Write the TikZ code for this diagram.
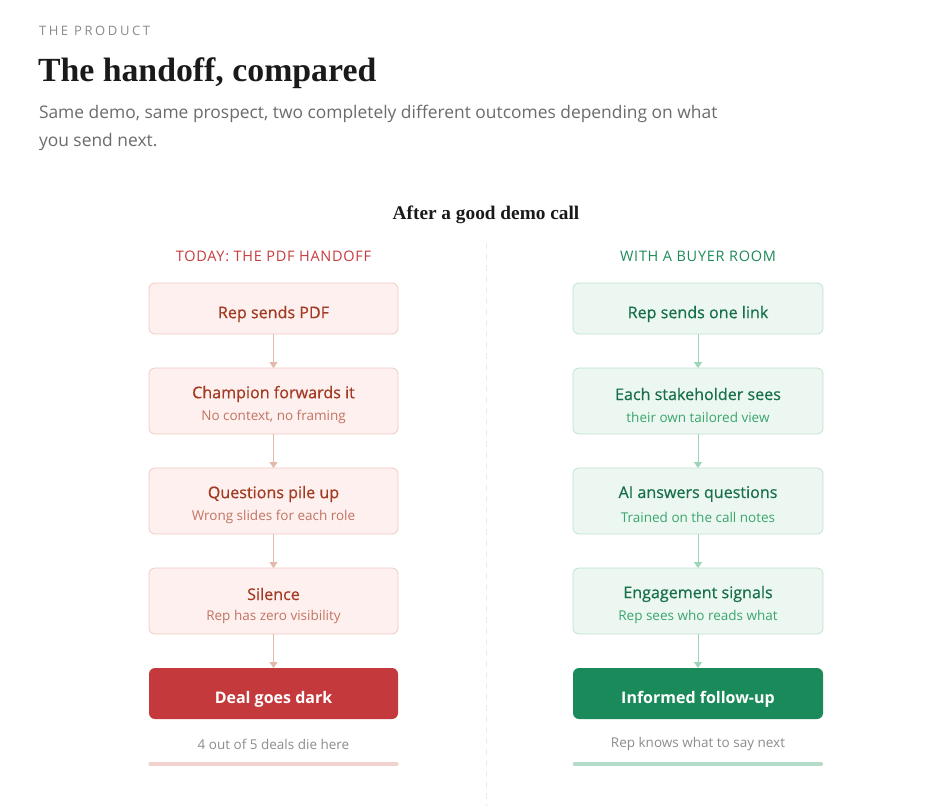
\documentclass[tikz,border=0pt]{standalone}
\usepackage{fontspec}
\setmainfont{Open Sans}
\newfontfamily\serifbold{Liberation Serif}[BoldFont={Liberation Serif Bold}]
\newfontfamily\medfont{Open Sans}[FakeBold=0.6]
\usetikzlibrary{arrows.meta}
\definecolor{lfill}{HTML}{FDF0EE}
\definecolor{lborder}{HTML}{F2CABF}
\definecolor{ltitle}{HTML}{A33A22}
\definecolor{lsub}{HTML}{C27462}
\definecolor{larrow}{HTML}{E2B9AB}
\definecolor{lsolid}{HTML}{C4393C}
\definecolor{lbar}{HTML}{F1D2CE}
\definecolor{lhead}{HTML}{C63B3E}
\definecolor{rfill}{HTML}{EDF7F1}
\definecolor{rborder}{HTML}{BFE3CF}
\definecolor{rtitle}{HTML}{17704A}
\definecolor{rsub}{HTML}{3AA56E}
\definecolor{rarrow}{HTML}{9DD5B8}
\definecolor{rsolid}{HTML}{1B8A5A}
\definecolor{rbar}{HTML}{B5DCC8}
\definecolor{rhead}{HTML}{1E8A58}
\definecolor{graytxt}{HTML}{6B6B6B}
\definecolor{captxt}{HTML}{8C8C8C}
\definecolor{eyebrow}{HTML}{8A8A8A}
\definecolor{ink}{HTML}{1A1A1A}
\tikzset{
  every node/.style={inner sep=0pt, outer sep=0pt},
  lbox/.style={draw=lborder, fill=lfill, line width=0.8pt, rounded corners=6pt, minimum width=249pt},
  rbox/.style={draw=rborder, fill=rfill, line width=0.8pt, rounded corners=6pt, minimum width=250pt},
  lsolidbox/.style={fill=lsolid, rounded corners=6pt, minimum width=249pt, minimum height=51pt},
  rsolidbox/.style={fill=rsolid, rounded corners=6pt, minimum width=250pt, minimum height=51pt},
  ttl/.style={font=\medfont\fontsize{16.1}{18}\selectfont},
  sub/.style={font=\fontsize{13.5}{16}\selectfont},
  larr/.style={draw=larrow, line width=0.9pt, -{Triangle[width=8pt,length=6pt]}, fill=larrow},
  rarr/.style={draw=rarrow, line width=0.9pt, -{Triangle[width=8pt,length=6pt]}, fill=rarrow},
}
\begin{document}
\begin{tikzpicture}[x=1pt,y=-1pt]
\useasboundingbox (0,0) rectangle (948,806);
% header
\node[anchor=west, text=eyebrow, font=\fontsize{13}{15}\selectfont\addfontfeatures{LetterSpace=20}] (eyebrow) at (39,31) {THE PRODUCT};
\node[anchor=west, text=ink, font=\serifbold\bfseries\fontsize{33.8}{38}\selectfont] (title) at (38,73) {The handoff, compared};
\node[anchor=west, text=graytxt, font=\fontsize{17.4}{28}\selectfont, align=left] (subtitle) at (39,127.5) {Same demo, same prospect, two completely different outcomes depending on what\\you send next.};
\node[text=ink, font=\serifbold\bfseries\fontsize{19.3}{22}\selectfont] (head) at (486,215) {After a good demo call};
% divider
\coordinate (dtop) at (486,243);
\coordinate (dbot) at (486,806);
\draw[draw=black!8, line width=1pt, dash pattern=on 6pt off 5pt] (dtop) -- (dbot);
% column heads
\node[text=lhead, font=\fontsize{14.5}{16}\selectfont\addfontfeatures{LetterSpace=5}] (lh) at (273.5,256) {TODAY: THE PDF HANDOFF};
\node[text=rhead, font=\fontsize{14.5}{16}\selectfont\addfontfeatures{LetterSpace=5}] (rh) at (698,256) {WITH A BUYER ROOM};
% left boxes
\node[lbox, minimum height=51pt] (l1) at (273.5,308.5) {};
\node[lbox, minimum height=66pt] (l2) at (273.5,401) {};
\node[lbox, minimum height=66pt] (l3) at (273.5,501) {};
\node[lbox, minimum height=66pt] (l4) at (273.5,601) {};
\node[lsolidbox] (l5) at (273.5,693.5) {};
\node[ttl, text=ltitle] (l1t) at (273.5,314) {Rep sends PDF};
\node[ttl, text=ltitle] (l2t) at (273.5,394) {Champion forwards it};
\node[sub, text=lsub] (l2s) at (273.5,417) {No context, no framing};
\node[ttl, text=ltitle] (l3t) at (273.5,494) {Questions pile up};
\node[sub, text=lsub] (l3s) at (273.5,517) {Wrong slides for each role};
\node[ttl, text=ltitle] (l4t) at (273.5,594) {Silence};
\node[sub, text=lsub] (l4s) at (273.5,617) {Rep has zero visibility};
\node[ttl, text=white, font=\bfseries\fontsize{16}{18}\selectfont] (l5t) at (273.5,699) {Deal goes dark};
\draw[larr] (l1) -- (l2);
\draw[larr] (l2) -- (l3);
\draw[larr] (l3) -- (l4);
\draw[larr] (l4) -- (l5);
\node[sub, text=captxt] (lcap) at (273.5,744) {4 out of 5 deals die here};
\coordinate (lb1) at (150,764);
\coordinate (lb2) at (397,764);
\draw[lbar, line width=3.5pt, line cap=round] (lb1) -- (lb2);
% right boxes
\node[rbox, minimum height=51pt] (r1) at (698,308.5) {};
\node[rbox, minimum height=66pt] (r2) at (698,401) {};
\node[rbox, minimum height=66pt] (r3) at (698,501) {};
\node[rbox, minimum height=66pt] (r4) at (698,601) {};
\node[rsolidbox] (r5) at (698,693.5) {};
\node[ttl, text=rtitle] (r1t) at (698,314) {Rep sends one link};
\node[ttl, text=rtitle] (r2t) at (698,394) {Each stakeholder sees};
\node[sub, text=rsub] (r2s) at (698,417) {their own tailored view};
\node[ttl, text=rtitle] (r3t) at (698,494) {AI answers questions};
\node[sub, text=rsub] (r3s) at (698,517) {Trained on the call notes};
\node[ttl, text=rtitle] (r4t) at (698,594) {Engagement signals};
\node[sub, text=rsub] (r4s) at (698,617) {Rep sees who reads what};
\node[ttl, text=white, font=\bfseries\fontsize{16}{18}\selectfont] (r5t) at (698,699) {Informed follow-up};
\draw[rarr] (r1) -- (r2);
\draw[rarr] (r2) -- (r3);
\draw[rarr] (r3) -- (r4);
\draw[rarr] (r4) -- (r5);
\node[sub, text=captxt] (rcap) at (698,744) {Rep knows what to say next};
\coordinate (rb1) at (574.5,764);
\coordinate (rb2) at (821.5,764);
\draw[rbar, line width=3.5pt, line cap=round] (rb1) -- (rb2);
\end{tikzpicture}
\end{document}
